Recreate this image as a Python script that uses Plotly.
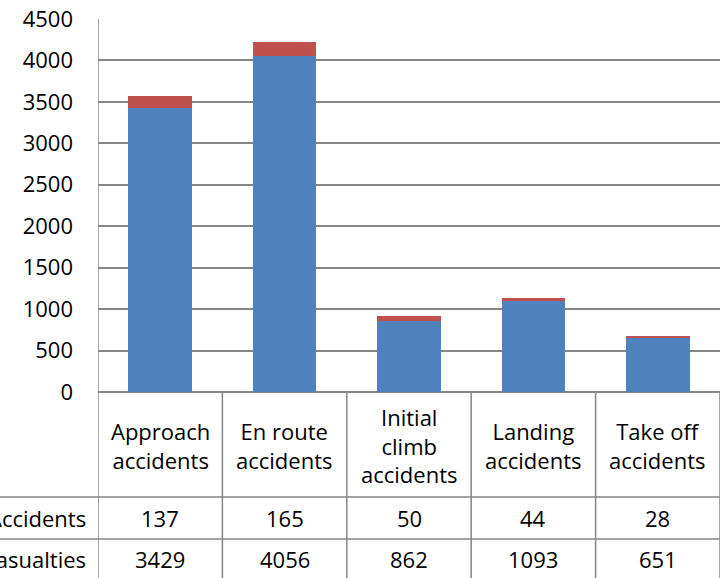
import plotly.graph_objects as go

categories = ["Approach<br>accidents", "En route<br>accidents", "Initial<br>climb<br>accidents",
              "Landing<br>accidents", "Take off<br>accidents"]
accidents = [137, 165, 50, 44, 28]
casualties = [3429, 4056, 862, 1093, 651]
row_labels = ["Accidents", "Casualties"]

W, H = 721, 578
L, R, T, B = 98, 1, 19, 186
ph = H - T - B
pw = W - L - R
FONT = "Open Sans"
FS = 22
GRID = "#868686"

idx = list(range(len(categories)))

fig = go.Figure()
fig.add_trace(go.Bar(x=idx, y=casualties, name="Casualties",
                     marker=dict(color="#4F81BD", line=dict(width=0)), width=0.51))
fig.add_trace(go.Bar(x=idx, y=accidents, name="Accidents",
                     marker=dict(color="#C0504D", line=dict(width=0)), width=0.51))


def py(pix):
    # pixel row (from top of page) -> paper y
    return (H - B - pix) / ph


row1 = py(497)
row2 = py(539)
bottom = py(H + 5)
left_paper = -L / pw

shapes = []
for i in range(len(categories) + 1):
    x = i - 0.5
    y1 = 1 if i == 0 else 0
    shapes.append(dict(type="line", xref="x", yref="paper", x0=x, x1=x, y0=bottom, y1=y1,
                       line=dict(color=GRID, width=1.5), layer="above"))
for yy in (row1, row2):
    shapes.append(dict(type="line", xref="paper", yref="paper", x0=left_paper, x1=1, y0=yy, y1=yy,
                       line=dict(color=GRID, width=1.5)))

tf = dict(family=FONT, size=FS, color="black")
annotations = []
for i, c in enumerate(categories):
    annotations.append(dict(x=i, xref="x", y=py(445), yref="paper", text=c, showarrow=False,
                            font=tf, xanchor="center", yanchor="middle"))
    annotations.append(dict(x=i, xref="x", y=py(518), yref="paper", text=str(accidents[i]),
                            showarrow=False, font=tf, xanchor="center", yanchor="middle"))
    annotations.append(dict(x=i, xref="x", y=py(559), yref="paper", text=str(casualties[i]),
                            showarrow=False, font=tf, xanchor="center", yanchor="middle"))
for lab, yc in zip(row_labels, [518, 559]):
    annotations.append(dict(x=(88 - L) / pw, xref="paper", y=py(yc), yref="paper", text=lab,
                            showarrow=False, font=tf, xanchor="right", yanchor="middle"))

fig.update_layout(
    width=W, height=H,
    margin=dict(l=L, r=R, t=T, b=B),
    barmode="stack",
    showlegend=False,
    plot_bgcolor="white", paper_bgcolor="white",
    font=tf,
    xaxis=dict(range=[-0.5, len(categories) - 0.5], showticklabels=False, showgrid=False,
               zeroline=False, showline=False, fixedrange=True),
    yaxis=dict(range=[0, 4500], dtick=500, showgrid=True, gridcolor=GRID, gridwidth=1.5,
               zeroline=True, zerolinecolor=GRID, zerolinewidth=1.5, showline=False,
               ticks="", ticklabelstandoff=24, tickfont=tf),
    shapes=shapes,
    annotations=annotations,
)

fig.write_html("out.html", config={"displayModeBar": False},
               post_script="document.body.style.margin='0';")
